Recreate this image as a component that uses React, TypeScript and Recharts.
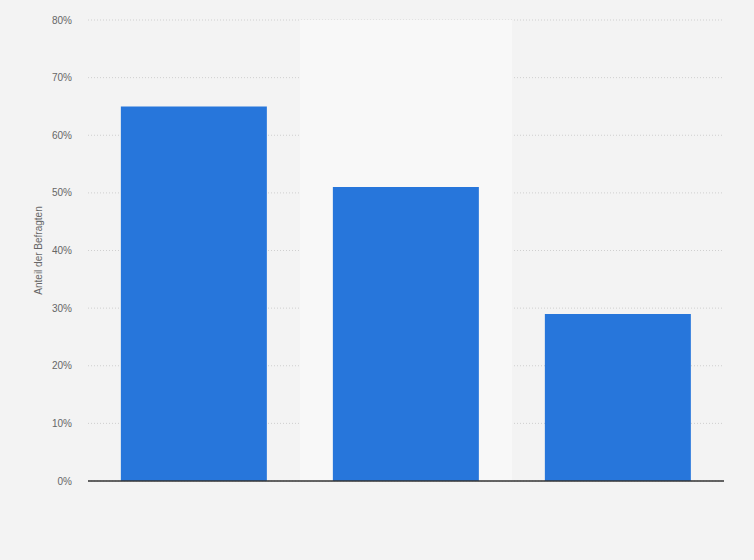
import { BarChart, Bar, XAxis, YAxis, CartesianGrid, ReferenceArea } from "recharts";

const categories = ["Kategorie 1", "Kategorie 2", "Kategorie 3"];
const shares = [65, 51, 29];
const yTicks = [0, 10, 20, 30, 40, 50, 60, 70, 80];

const data = categories.map((name, i) => ({ name, value: shares[i] }));

const App = () => {
  return (
    <div style={{ position: "absolute", left: 0, top: 0, width: 754, height: 560, background: "#f3f3f3" }}>
      <BarChart
        width={754}
        height={560}
        data={data}
        margin={{ top: 20, right: 30, bottom: 49, left: 0 }}
        barCategoryGap="15.5%"
      >
        <ReferenceArea x1={categories[1]} x2={categories[1]} fill="#f8f8f8" fillOpacity={1} stroke="none" />
        <CartesianGrid vertical={false} stroke="#cfcfcf" strokeDasharray="1 2" />
        <XAxis
          dataKey="name"
          tick={false}
          tickLine={false}
          axisLine={{ stroke: "#333", strokeWidth: 1.5 }}
          height={30}
        />
        <YAxis
          width={88}
          domain={[0, 80]}
          ticks={yTicks}
          interval={0}
          tickFormatter={(v) => `${v}%`}
          tick={{ fill: "#666", fontSize: 10, fontFamily: "Liberation Sans, Arial, sans-serif" }}
          tickLine={false}
          axisLine={false}
          tickSize={0}
          tickMargin={16}
          label={{
            value: "Anteil der Befragten",
            angle: -90,
            position: "insideLeft",
            offset: 38,
            style: { fill: "#666", fontSize: 10, fontFamily: "Liberation Sans, Arial, sans-serif", textAnchor: "middle" },
          }}
        />
        <Bar dataKey="value" fill="#2776db" isAnimationActive={false} />
      </BarChart>
    </div>
  );
};

export default App;
